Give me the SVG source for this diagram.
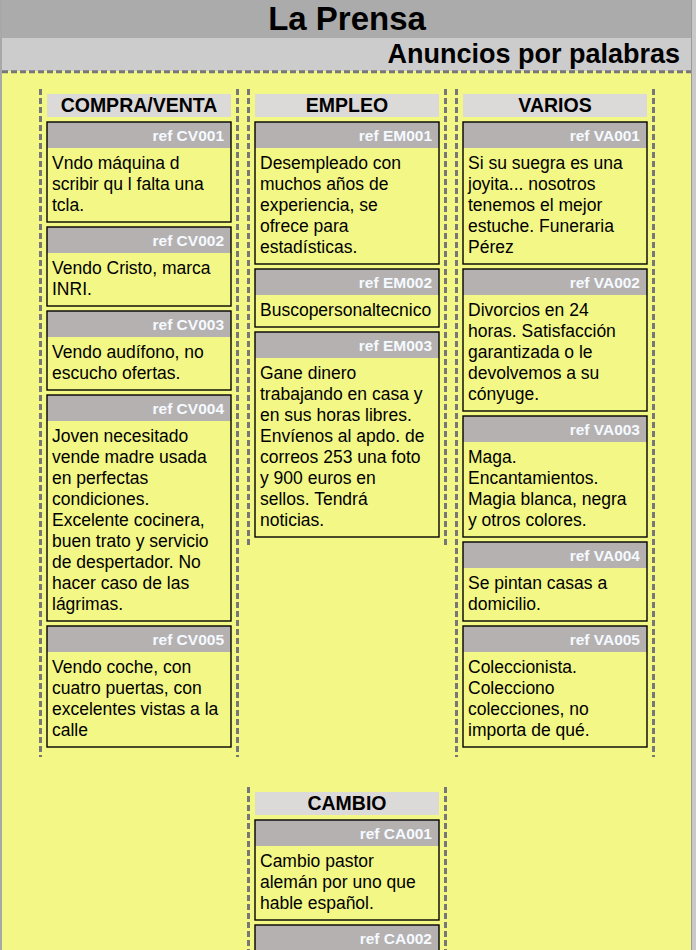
<svg xmlns="http://www.w3.org/2000/svg" width="696" height="950" viewBox="0 0 696 950">
<style>
.bg{fill:#f3f786}
.dash{stroke:#777;stroke-width:3;stroke-dasharray:6 3;fill:none}
.colh{fill:#dcd9d9}
.colt{font-family:"Liberation Sans",Arial,sans-serif;font-weight:bold;font-size:19.5px;fill:#000;text-anchor:middle}
.card{fill:none;stroke:#000;stroke-width:1.4}
.cardh{fill:#b6b1b1}
.ref{font-family:"Liberation Sans",Arial,sans-serif;font-weight:bold;font-size:15.5px;fill:#f4faff;text-anchor:end}
.body{font-family:"Liberation Sans",Arial,sans-serif;font-size:17.5px;fill:#000}
.title{font-family:"Liberation Sans",Arial,sans-serif;font-weight:bold;font-size:33px;fill:#000;text-anchor:middle}
.sub{font-family:"Liberation Sans",Arial,sans-serif;font-weight:bold;font-size:27px;fill:#000;text-anchor:end}
</style>
<rect class="bg" x="0" y="0" width="696" height="950"/>
<g id="header">
<rect x="0" y="0" width="691" height="38" fill="#ababab"/>
<rect x="0" y="38" width="691" height="33" fill="#cccccc"/>
<text class="title" x="347" y="30">La Prensa</text>
<text class="sub" x="680" y="63">Anuncios por palabras</text>
<line class="dash" x1="2" y1="71.7" x2="691" y2="71.7" stroke-width="2.5"/>
</g>
<rect x="0" y="0" width="2" height="950" fill="#a8a8a8"/>
<rect x="691" y="0" width="5" height="950" fill="#c8c8c8"/>
<rect x="691" y="0" width="1" height="950" fill="#9a9a9a"/>
<g id="connectors">
<line class="dash" x1="40.5" y1="89" x2="40.5" y2="757"/>
<line class="dash" x1="237.5" y1="89" x2="237.5" y2="757"/>
<line class="dash" x1="248.5" y1="89" x2="248.5" y2="547"/>
<line class="dash" x1="445.5" y1="89" x2="445.5" y2="547"/>
<line class="dash" x1="456.5" y1="89" x2="456.5" y2="757"/>
<line class="dash" x1="653.5" y1="89" x2="653.5" y2="757"/>
<line class="dash" x1="248.5" y1="787" x2="248.5" y2="950"/>
<line class="dash" x1="445.5" y1="787" x2="445.5" y2="950"/>
</g>
<g id="col-compraventa">
<rect class="colh" x="47" y="94" width="184" height="23"/>
<text class="colt" x="139" y="111.5">COMPRA/VENTA</text>
</g>
<g id="col-empleo">
<rect class="colh" x="255" y="94" width="184" height="23"/>
<text class="colt" x="347" y="111.5">EMPLEO</text>
</g>
<g id="col-varios">
<rect class="colh" x="463" y="94" width="184" height="23"/>
<text class="colt" x="555" y="111.5">VARIOS</text>
</g>
<g id="col-cambio">
<rect class="colh" x="255" y="792" width="184" height="23"/>
<text class="colt" x="347" y="809.5">CAMBIO</text>
</g>
<g id="CV001">
<rect class="cardh" x="47" y="122" width="184" height="26"/>
<rect class="card" x="47" y="122" width="184" height="100"/>
<text class="ref" x="224" y="141">ref CV001</text>
<text class="body" x="52" y="169">Vndo máquina d</text>
<text class="body" x="52" y="190">scribir qu l falta una</text>
<text class="body" x="52" y="211">tcla.</text>
</g>
<g id="CV002">
<rect class="cardh" x="47" y="227" width="184" height="26"/>
<rect class="card" x="47" y="227" width="184" height="79"/>
<text class="ref" x="224" y="246">ref CV002</text>
<text class="body" x="52" y="274">Vendo Cristo, marca</text>
<text class="body" x="52" y="295">INRI.</text>
</g>
<g id="CV003">
<rect class="cardh" x="47" y="311" width="184" height="26"/>
<rect class="card" x="47" y="311" width="184" height="79"/>
<text class="ref" x="224" y="330">ref CV003</text>
<text class="body" x="52" y="358">Vendo audífono, no</text>
<text class="body" x="52" y="379">escucho ofertas.</text>
</g>
<g id="CV004">
<rect class="cardh" x="47" y="395" width="184" height="26"/>
<rect class="card" x="47" y="395" width="184" height="226"/>
<text class="ref" x="224" y="414">ref CV004</text>
<text class="body" x="52" y="442">Joven necesitado</text>
<text class="body" x="52" y="463">vende madre usada</text>
<text class="body" x="52" y="484">en perfectas</text>
<text class="body" x="52" y="505">condiciones.</text>
<text class="body" x="52" y="526">Excelente cocinera,</text>
<text class="body" x="52" y="547">buen trato y servicio</text>
<text class="body" x="52" y="568">de despertador. No</text>
<text class="body" x="52" y="589">hacer caso de las</text>
<text class="body" x="52" y="610">lágrimas.</text>
</g>
<g id="CV005">
<rect class="cardh" x="47" y="626" width="184" height="26"/>
<rect class="card" x="47" y="626" width="184" height="121"/>
<text class="ref" x="224" y="645">ref CV005</text>
<text class="body" x="52" y="673">Vendo coche, con</text>
<text class="body" x="52" y="694">cuatro puertas, con</text>
<text class="body" x="52" y="715">excelentes vistas a la</text>
<text class="body" x="52" y="736">calle</text>
</g>
<g id="EM001">
<rect class="cardh" x="255" y="122" width="184" height="26"/>
<rect class="card" x="255" y="122" width="184" height="142"/>
<text class="ref" x="432" y="141">ref EM001</text>
<text class="body" x="260" y="169">Desempleado con</text>
<text class="body" x="260" y="190">muchos años de</text>
<text class="body" x="260" y="211">experiencia, se</text>
<text class="body" x="260" y="232">ofrece para</text>
<text class="body" x="260" y="253">estadísticas.</text>
</g>
<g id="EM002">
<rect class="cardh" x="255" y="269" width="184" height="26"/>
<rect class="card" x="255" y="269" width="184" height="58"/>
<text class="ref" x="432" y="288">ref EM002</text>
<text class="body" x="260" y="316">Buscopersonaltecnico</text>
</g>
<g id="EM003">
<rect class="cardh" x="255" y="332" width="184" height="26"/>
<rect class="card" x="255" y="332" width="184" height="205"/>
<text class="ref" x="432" y="351">ref EM003</text>
<text class="body" x="260" y="379">Gane dinero</text>
<text class="body" x="260" y="400">trabajando en casa y</text>
<text class="body" x="260" y="421">en sus horas libres.</text>
<text class="body" x="260" y="442">Envíenos al apdo. de</text>
<text class="body" x="260" y="463">correos 253 una foto</text>
<text class="body" x="260" y="484">y 900 euros en</text>
<text class="body" x="260" y="505">sellos. Tendrá</text>
<text class="body" x="260" y="526">noticias.</text>
</g>
<g id="VA001">
<rect class="cardh" x="463" y="122" width="184" height="26"/>
<rect class="card" x="463" y="122" width="184" height="142"/>
<text class="ref" x="640" y="141">ref VA001</text>
<text class="body" x="468" y="169">Si su suegra es una</text>
<text class="body" x="468" y="190">joyita... nosotros</text>
<text class="body" x="468" y="211">tenemos el mejor</text>
<text class="body" x="468" y="232">estuche. Funeraria</text>
<text class="body" x="468" y="253">Pérez</text>
</g>
<g id="VA002">
<rect class="cardh" x="463" y="269" width="184" height="26"/>
<rect class="card" x="463" y="269" width="184" height="142"/>
<text class="ref" x="640" y="288">ref VA002</text>
<text class="body" x="468" y="316">Divorcios en 24</text>
<text class="body" x="468" y="337">horas. Satisfacción</text>
<text class="body" x="468" y="358">garantizada o le</text>
<text class="body" x="468" y="379">devolvemos a su</text>
<text class="body" x="468" y="400">cónyuge.</text>
</g>
<g id="VA003">
<rect class="cardh" x="463" y="416" width="184" height="26"/>
<rect class="card" x="463" y="416" width="184" height="121"/>
<text class="ref" x="640" y="435">ref VA003</text>
<text class="body" x="468" y="463">Maga.</text>
<text class="body" x="468" y="484">Encantamientos.</text>
<text class="body" x="468" y="505">Magia blanca, negra</text>
<text class="body" x="468" y="526">y otros colores.</text>
</g>
<g id="VA004">
<rect class="cardh" x="463" y="542" width="184" height="26"/>
<rect class="card" x="463" y="542" width="184" height="79"/>
<text class="ref" x="640" y="561">ref VA004</text>
<text class="body" x="468" y="589">Se pintan casas a</text>
<text class="body" x="468" y="610">domicilio.</text>
</g>
<g id="VA005">
<rect class="cardh" x="463" y="626" width="184" height="26"/>
<rect class="card" x="463" y="626" width="184" height="121"/>
<text class="ref" x="640" y="645">ref VA005</text>
<text class="body" x="468" y="673">Coleccionista.</text>
<text class="body" x="468" y="694">Colecciono</text>
<text class="body" x="468" y="715">colecciones, no</text>
<text class="body" x="468" y="736">importa de qué.</text>
</g>
<g id="CA001">
<rect class="cardh" x="255" y="820" width="184" height="26"/>
<rect class="card" x="255" y="820" width="184" height="100"/>
<text class="ref" x="432" y="839">ref CA001</text>
<text class="body" x="260" y="867">Cambio pastor</text>
<text class="body" x="260" y="888">alemán por uno que</text>
<text class="body" x="260" y="909">hable español.</text>
</g>
<g id="CA002">
<rect class="cardh" x="255" y="925" width="184" height="30"/>
<rect class="card" x="255" y="925" width="184" height="40"/>
<text class="ref" x="432" y="944">ref CA002</text>
</g>
</svg>
